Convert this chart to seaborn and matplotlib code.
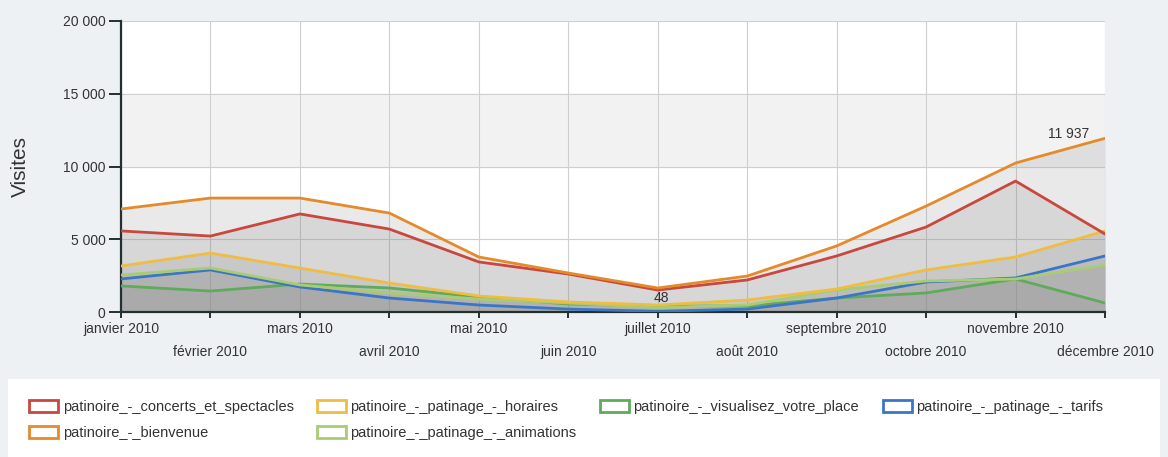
import numpy as np
import pandas as pd
import seaborn as sns
import matplotlib.pyplot as plt
from matplotlib.patches import Patch, Rectangle
from matplotlib.ticker import FuncFormatter

# %%
mois = ["janvier 2010", "février 2010", "mars 2010", "avril 2010", "mai 2010", "juin 2010",
        "juillet 2010", "août 2010", "septembre 2010", "octobre 2010", "novembre 2010", "décembre 2010"]

concerts = [5570, 5220, 6740, 5700, 3440, 2610, 1510, 2200, 3850, 5840, 9000, 5360]
bienvenue = [7080, 7830, 7830, 6800, 3780, 2680, 1650, 2470, 4540, 7280, 10240, 11937]
horaires = [3160, 4050, 3020, 1990, 1100, 690, 480, 820, 1580, 2890, 3780, 5570]
animations = [2540, 3020, 1860, 1310, 890, 620, 300, 480, 1510, 2130, 2270, 3230]
visualisez = [1790, 1440, 1920, 1650, 1030, 550, 410, 410, 960, 1310, 2270, 620]
tarifs = [2270, 2890, 1720, 960, 480, 200, 48, 200, 960, 2060, 2340, 3850]

pages = {
    "patinoire_-_concerts_et_spectacles": concerts,
    "patinoire_-_bienvenue": bienvenue,
    "patinoire_-_patinage_-_horaires": horaires,
    "patinoire_-_patinage_-_animations": animations,
    "patinoire_-_visualisez_votre_place": visualisez,
    "patinoire_-_patinage_-_tarifs": tarifs,
}
couleurs = {
    "patinoire_-_concerts_et_spectacles": "#c9473e",
    "patinoire_-_bienvenue": "#e58a2a",
    "patinoire_-_patinage_-_horaires": "#eebd42",
    "patinoire_-_patinage_-_animations": "#a9cc72",
    "patinoire_-_visualisez_votre_place": "#5eab5b",
    "patinoire_-_patinage_-_tarifs": "#3b76c6",
}
# drawing order (bottom first)
ordre = ["patinoire_-_visualisez_votre_place", "patinoire_-_patinage_-_tarifs",
         "patinoire_-_patinage_-_animations", "patinoire_-_patinage_-_horaires",
         "patinoire_-_concerts_et_spectacles", "patinoire_-_bienvenue"]

# %%
rows = []
for page, vals in pages.items():
    for i, v in enumerate(vals):
        rows.append((i, v, page))
df = pd.DataFrame(rows, columns=["mois", "visites", "page"])

# %%
sns.set_style("white")
plt.rcParams["font.family"] = ["Liberation Sans", "DejaVu Sans"]

fig = plt.figure(figsize=(11.68, 4.57), dpi=100, facecolor="#eef1f4")
ax = fig.add_axes([121 / 1168, 145 / 457, 984 / 1168, 291 / 457])
ax.set_facecolor("white")

# light band between 10 000 and 15 000
ax.axhspan(10000, 15000, color="#f2f2f2", zorder=0)

for page in ordre:
    ax.fill_between(range(len(mois)), 0, pages[page], color="#8a8a8a", alpha=0.185,
                    linewidth=0, zorder=1)

sns.lineplot(data=df, x="mois", y="visites", hue="page", hue_order=ordre,
             palette=couleurs, linewidth=2.0, legend=False, ax=ax, zorder=3)

ax.set_xlim(0, len(mois) - 1)
ax.set_ylim(0, 20000)
ax.set_yticks([0, 5000, 10000, 15000, 20000])
ax.yaxis.set_major_formatter(FuncFormatter(lambda v, p: f"{int(v):,}".replace(",", " ")))
ax.set_xticks(range(len(mois)))
ax.set_xticklabels(mois)
ax.grid(True, color="#cfcfcf", linewidth=0.8, zorder=0)
ax.set_axisbelow(True)

for s in ["top", "right"]:
    ax.spines[s].set_visible(False)
for s in ["left", "bottom"]:
    ax.spines[s].set_color("#24302f")
    ax.spines[s].set_linewidth(1.6)

ax.tick_params(axis="y", length=9, width=1.4, color="#24302f", labelsize=10,
               labelcolor="#333333", pad=2, left=True)
ax.tick_params(axis="x", length=4, width=1.4, color="#24302f", labelsize=10,
               labelcolor="#333333", bottom=True)
for i, tick in enumerate(ax.xaxis.get_major_ticks()):
    tick.set_pad(3 if i % 2 == 0 else 20)

ax.set_xlabel("")
ax.set_ylabel("Visites", fontsize=15, color="#333333", labelpad=24)

# max / min labels
vmax = max(bienvenue)
ax.annotate(f"{vmax:,}".replace(",", " "), xy=(bienvenue.index(vmax), vmax),
            xytext=(-16, 4), textcoords="offset pixels", ha="right", va="center",
            fontsize=10, color="#333333", zorder=5)
vmin = min(tarifs)
ax.annotate(f"{vmin}", xy=(tarifs.index(vmin), vmin), xytext=(4, 13),
            textcoords="offset pixels", ha="center", va="center",
            fontsize=10, color="#333333", zorder=5)

# %%
# legend in a white box at the bottom
fig.patches.append(Rectangle((8 / 1168, 0), 1152 / 1168, 78 / 457, transform=fig.transFigure,
                             facecolor="white", edgecolor="none", zorder=0))
handles = [Patch(facecolor="white", edgecolor=couleurs[p], linewidth=2, label=p) for p in pages]
fig.legend(handles=handles, loc="upper left", bbox_to_anchor=(16 / 1168, 70 / 457),
           ncol=4, frameon=False, fontsize=10.5, handlelength=2.0, handleheight=0.9,
           handletextpad=0.3, columnspacing=1.6, labelspacing=0.8, labelcolor="#333333")

fig.savefig("out.png", dpi=100, facecolor=fig.get_facecolor())
